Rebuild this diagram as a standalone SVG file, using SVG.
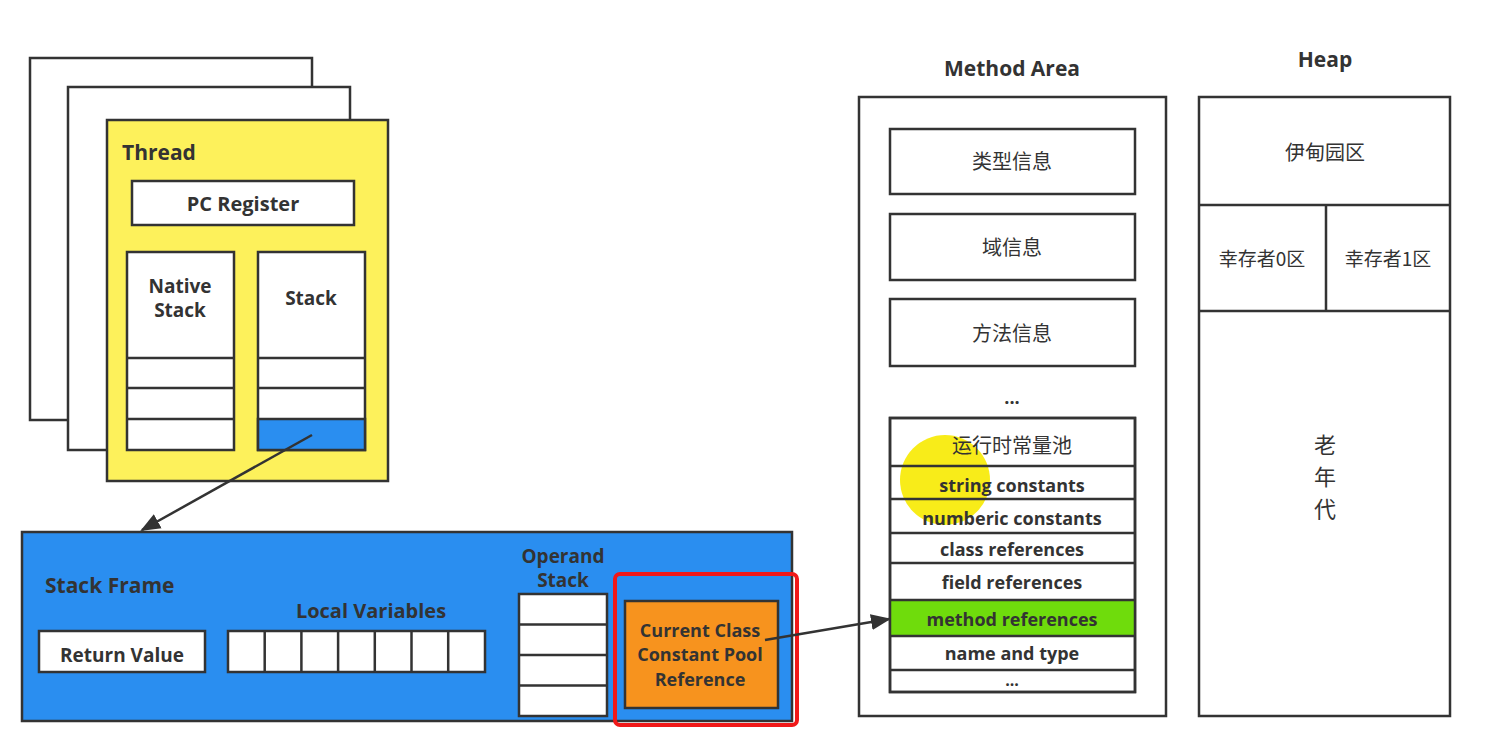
<svg xmlns="http://www.w3.org/2000/svg" width="1489" height="744" viewBox="0 0 1489 744">
<style>
.b{stroke:#333;stroke-width:2.5}
.w{fill:#fff}
.t{font-family:"Open Sans","Noto Sans CJK SC",sans-serif;font-weight:bold;fill:#333;text-anchor:middle}
.c{font-family:"Noto Sans CJK SC",sans-serif;fill:#333;text-anchor:middle}
</style>
<defs><marker id="a" viewBox="0 0 10 10" refX="9" refY="5" markerWidth="8" markerHeight="8" orient="auto"><path d="M0,1 L10,5 L0,9 Z" fill="#333"/></marker></defs>
<rect width="1489" height="744" fill="#fff"/>
<g id="thread">
<rect x="30" y="58" width="282" height="362" class="b w"/>
<rect x="68" y="87" width="282" height="363" class="b w"/>
<rect x="107" y="120" width="281" height="361" class="b" fill="#fdf15b"/>
<text x="122" y="160" class="t" text-anchor="start" style="text-anchor:start" font-size="21">Thread</text>
<rect x="132" y="181" width="222" height="44" class="b w"/>
<text x="243" y="211" class="t" font-size="20">PC Register</text>
<rect x="127" y="252" width="107" height="198" class="b w"/>
<text x="180" y="293" class="t" font-size="19">Native</text><text x="180" y="317" class="t" font-size="19">Stack</text>
<path d="M127,358H234M127,388H234M127,419H234" class="b"/>
<rect x="258" y="252" width="107" height="198" class="b w"/>
<rect x="258" y="419" width="107" height="31" class="b" fill="#2a8ef0"/>
<text x="311" y="305" class="t" font-size="19">Stack</text>
<path d="M258,358H365M258,388H365" class="b"/>
</g>
<g id="frame">
<rect x="22" y="532" width="770" height="189" class="b" fill="#2a8ef0"/>
<text x="45" y="593" class="t" style="text-anchor:start" font-size="21">Stack Frame</text>
<rect x="39" y="631" width="166" height="41" class="b w"/>
<text x="122" y="662" class="t" font-size="19">Return Value</text>
<text x="371" y="618" class="t" font-size="20">Local Variables</text>
<rect x="228" y="631" width="257" height="41" class="b w"/>
<path d="M264.7,631V672M301.4,631V672M338.1,631V672M374.8,631V672M411.5,631V672M448.2,631V672" class="b"/>
<text x="563" y="563" class="t" font-size="19">Operand</text><text x="563" y="587" class="t" font-size="19">Stack</text>
<rect x="519" y="594" width="88" height="122" class="b w"/>
<path d="M519,624.5H607M519,655H607M519,685.5H607" class="b"/>
<rect x="625" y="601" width="153" height="107" class="b" fill="#f7931e"/>
<text x="700" y="637" class="t" font-size="18">Current Class</text>
<text x="700" y="661" class="t" font-size="18">Constant Pool</text>
<text x="700" y="686" class="t" font-size="18">Reference</text>
<rect x="615" y="574" width="182" height="151" rx="5" fill="none" stroke="#f01818" stroke-width="4"/>
</g>
<g id="method">
<text x="1012" y="76" class="t" font-size="21">Method Area</text>
<rect x="859" y="97" width="307" height="619" class="b w"/>
<rect x="890" y="129" width="245" height="65" class="b w"/><text x="1012" y="169" class="c" font-size="20">类型信息</text>
<rect x="890" y="214" width="245" height="66" class="b w"/><text x="1012" y="255" class="c" font-size="20">域信息</text>
<rect x="890" y="299" width="245" height="67" class="b w"/><text x="1012" y="341" class="c" font-size="20">方法信息</text>
<text x="1012" y="404" class="t" font-size="18">...</text>
<rect x="890" y="418" width="245" height="274" class="b w"/>
<rect x="890" y="600" width="245" height="36" fill="#6fdc0c"/>
<circle cx="945" cy="480" r="45" fill="#f7ea00" opacity="0.9"/>
<path d="M890,466H1135M890,499H1135M890,533H1135M890,563H1135M890,600H1135M890,636H1135M890,670H1135" class="b"/>
<rect x="890" y="418" width="245" height="274" class="b" fill="none"/>
<text x="1012" y="453" class="c" font-size="20">运行时常量池</text>
<text x="1012" y="492" class="t" font-size="18">string constants</text>
<text x="1012" y="525" class="t" font-size="18">numberic constants</text>
<text x="1012" y="556" class="t" font-size="18">class references</text>
<text x="1012" y="589" class="t" font-size="18">field references</text>
<text x="1012" y="626" class="t" font-size="18">method references</text>
<text x="1012" y="660" class="t" font-size="18">name and type</text>
<text x="1012" y="686" class="t" font-size="16">...</text>
</g>
<g id="heap">
<text x="1325" y="67" class="t" font-size="21">Heap</text>
<rect x="1199" y="97" width="251" height="619" class="b w"/>
<path d="M1199,205H1450M1199,311H1450M1326,205V311" class="b"/>
<text x="1325" y="160" class="c" font-size="20">伊甸园区</text>
<text x="1262" y="266" class="c" font-size="19">幸存者0区</text>
<text x="1388" y="266" class="c" font-size="19">幸存者1区</text>
<text x="1325" y="453" class="c" font-size="22">老</text>
<text x="1325" y="485" class="c" font-size="22">年</text>
<text x="1325" y="517" class="c" font-size="22">代</text>
</g>
<g id="connectors" stroke="#333" stroke-width="2.5" fill="none">
<path d="M312,435L142,530" marker-end="url(#a)"/>
<path d="M765,640L889,619" marker-end="url(#a)"/>
</g>
</svg>
